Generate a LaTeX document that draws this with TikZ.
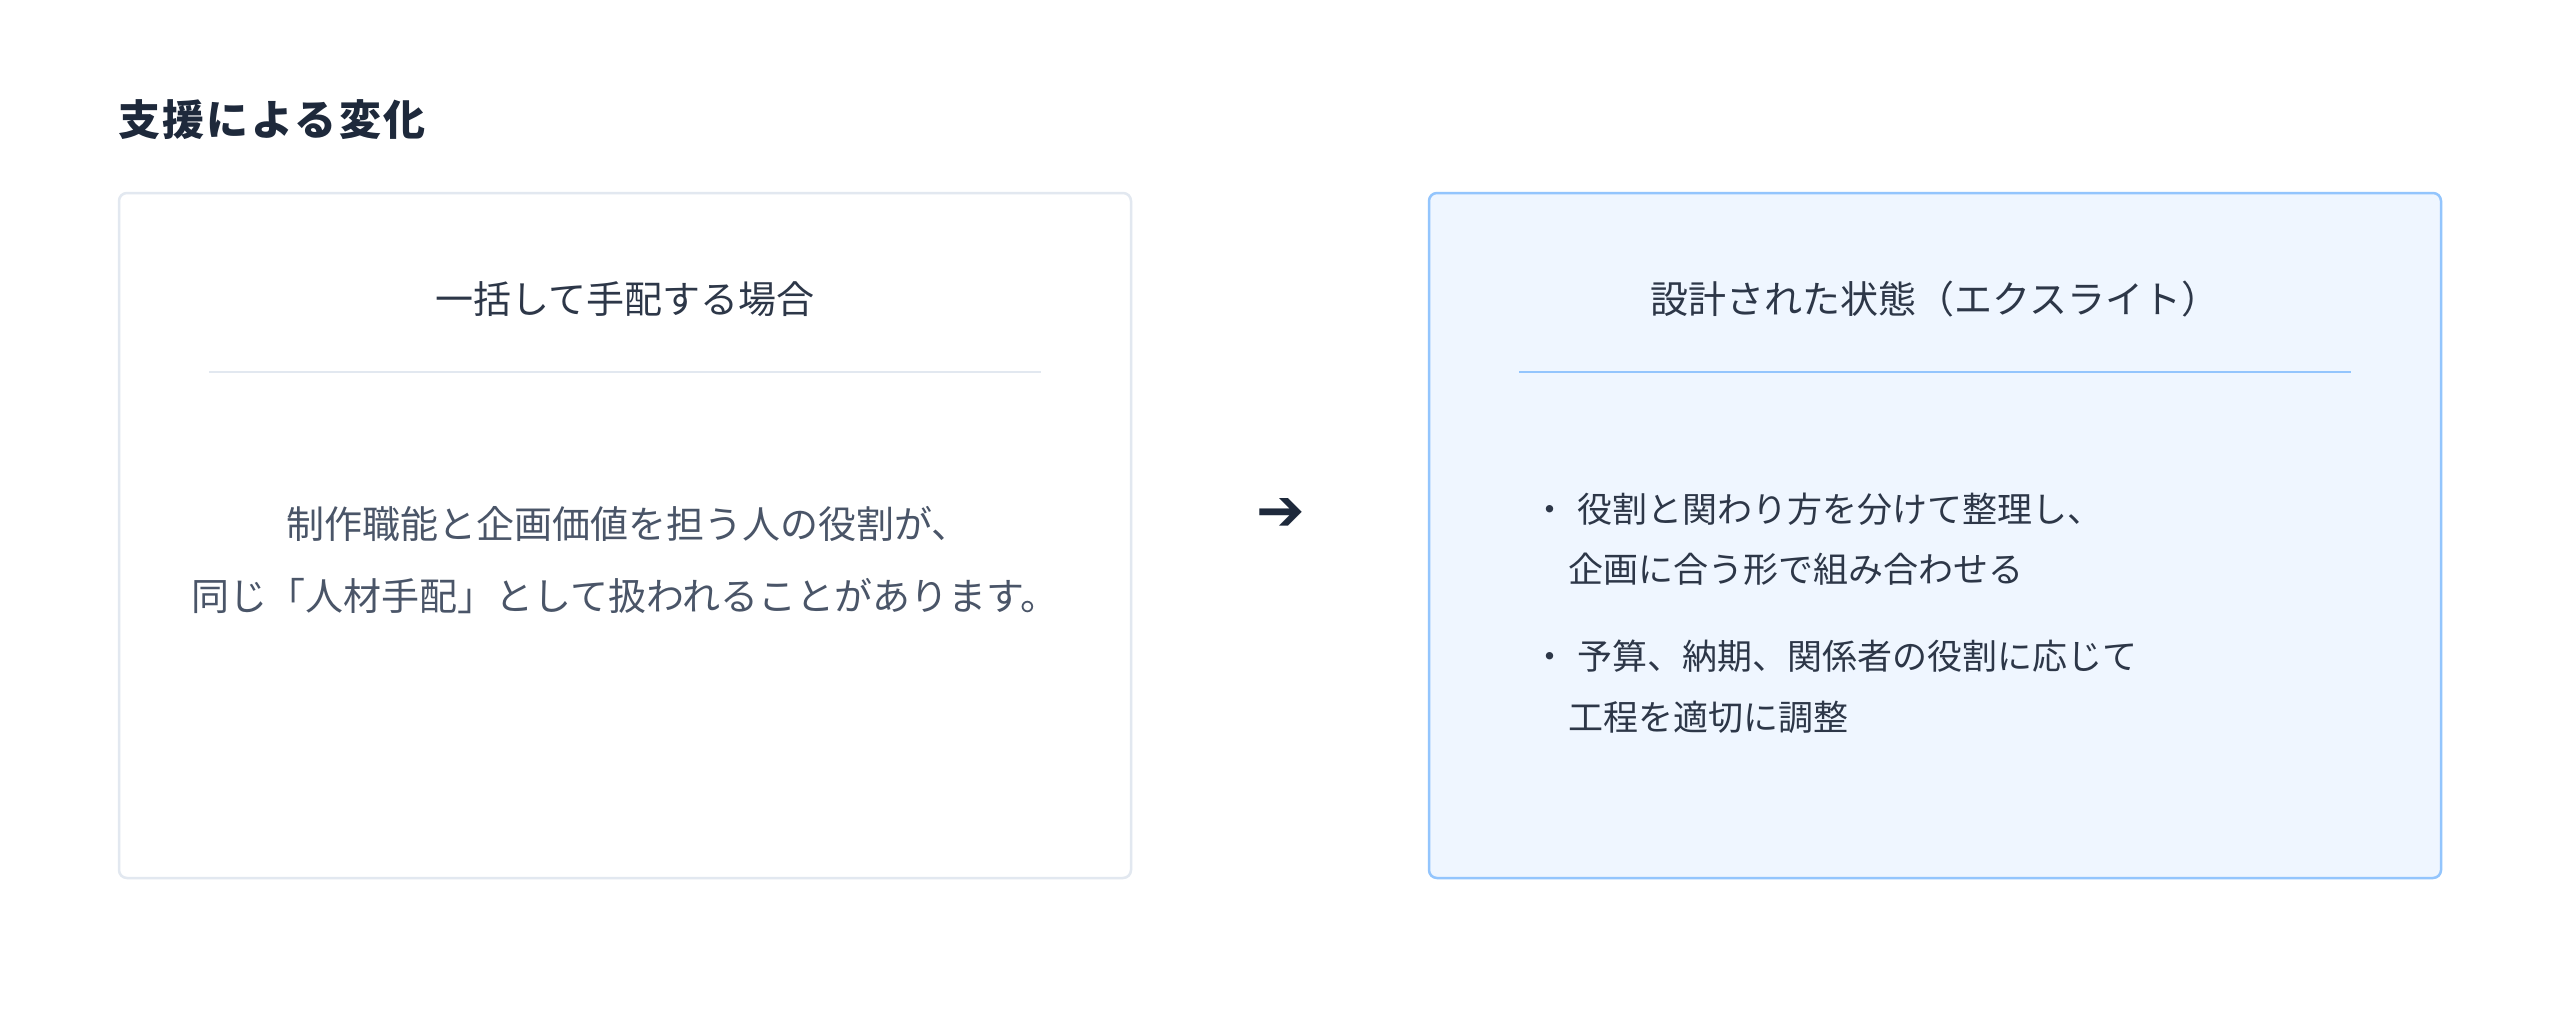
\documentclass[tikz,border=0pt]{standalone}
\usepackage{fontspec}
\setmainfont{Noto Sans CJK JP}
\newfontfamily\arrowfont{DejaVu Sans}
\definecolor{titlec}{HTML}{1E293B}
\definecolor{headc}{HTML}{2D3748}
\definecolor{bodyc}{HTML}{4A5568}
\definecolor{bulletc}{HTML}{2D3748}
\definecolor{lborder}{HTML}{E2E8F0}
\definecolor{rborder}{HTML}{93C5FD}
\definecolor{rfill}{HTML}{EFF6FF}
\tikzset{
  card/.style={rounded corners=8pt, line width=2.5pt, inner sep=0pt, outer sep=0pt,
    minimum width=1012pt, minimum height=685pt},
  leftcard/.style={card, draw=lborder, fill=white},
  rightcard/.style={card, draw=rborder, fill=rfill},
  txt/.style={inner sep=0pt, outer sep=0pt},
  headtxt/.style={txt, anchor=base, text=headc, font=\fontsize{38}{38}\selectfont},
  bodytxt/.style={txt, anchor=base, text=bodyc, font=\fontsize{38}{38}\selectfont},
  itemtxt/.style={txt, anchor=base west, text=bulletc, font=\fontsize{35}{35}\selectfont},
  divider/.style={line width=2.5pt},
}
\begin{document}
\begin{tikzpicture}[x=1pt, y=-1pt]
  \useasboundingbox (0,0) rectangle (2560,1012);
  \fill[white] (0,0) rectangle (2560,1012);

  % title
  \node[txt, anchor=base west, text=titlec,
        font=\fontsize{42}{42}\selectfont\bfseries\addfontfeature{LetterSpace=6}]
        (title) at (118,135.5) {支援による変化};

  % cards
  \node[leftcard]  (lcard) at (625,535.5) {};
  \node[rightcard] (rcard) at (1935,535.5) {};

  % left card content
  \node[headtxt] (lhead) at (625,313) {一括して手配する場合};
  \draw[divider, lborder] (209,372) -- (1041,372);
  \node[bodytxt] (lbody1) at (628,538.5) {制作職能と企画価値を担う人の役割が、};
  \node[bodytxt] (lbody2) at (625,610.5) {同じ「人材手配」として扱われることがあります。};

  % arrow
  \node[txt, text=titlec, font=\arrowfont\bfseries\fontsize{58}{58}\selectfont] (arrow) at (1281,514) {➔};

  % right card content
  \node[headtxt] (rhead) at (1935,313) {設計された状態（エクスライト）};
  \draw[divider, rborder] (1519,372) -- (2351,372);
  \node[itemtxt] (b1) at (1532,522.3) {・};
  \node[itemtxt] (i1a) at (1577,522.3) {役割と関わり方を分けて整理し、};
  \node[itemtxt] (i1b) at (1568,582.3) {企画に合う形で組み合わせる};
  \node[itemtxt] (b2) at (1532,669.3) {・};
  \node[itemtxt] (i2a) at (1577,669.3) {予算、納期、関係者の役割に応じて};
  \node[itemtxt] (i2b) at (1568,730.3) {工程を適切に調整};
\end{tikzpicture}
\end{document}
